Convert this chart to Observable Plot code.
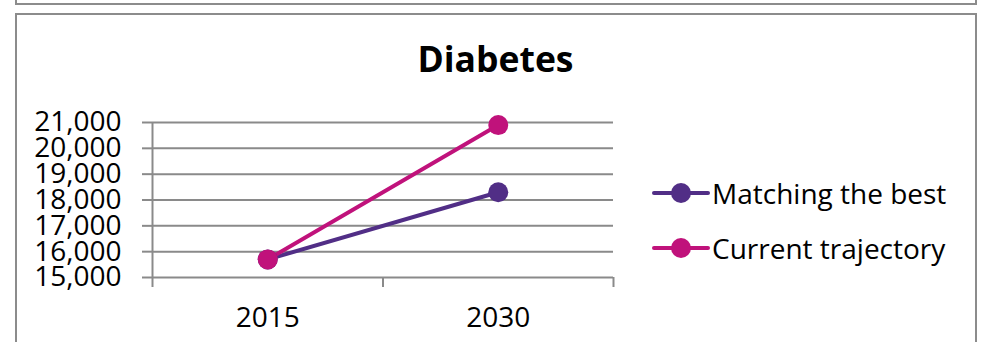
<!DOCTYPE html>
<html>
<head>
<meta charset="utf-8">
<script src="https://cdn.jsdelivr.net/npm/d3@7"></script>
<script src="https://cdn.jsdelivr.net/npm/@observablehq/plot@0.6"></script>
<style>
  html, body { margin: 0; padding: 0; background: #fff; }
  #stage { position: relative; width: 982px; height: 342px; overflow: hidden; font-family: "Open Sans", sans-serif; }
  .frame { position: absolute; border: 2px solid #8c8c8c; box-sizing: border-box; background: #fff; }
  #title { position: absolute; left: 16px; width: 959px; top: 34px; text-align: center; font-weight: 700; font-size: 35.5px; line-height: 48px; color: #000; }
  #chart { position: absolute; left: 0; top: 0; }
  #legend { position: absolute; left: 652px; top: 170px; font-size: 28px; color: #000; }
  .item { display: flex; align-items: center; height: 46px; margin-bottom: 9px; }
  .item svg { margin-right: 2px; }
</style>
</head>
<body>
<div id="stage">
  <div class="frame" style="left:15px; top:-20px; width:962px; height:25px;"></div>
  <div class="frame" style="left:15px; top:13px; width:962px; height:360px;"></div>
  <div id="chart"></div>
  <div id="title">Diabetes</div>
  <div id="legend"></div>
</div>
<script>
// Categories, series and axis ticks
const years = ["2015", "2030"];
const seriesNames = ["Matching the best", "Current trajectory"];
const matchingBest = [15700, 18300];
const currentTrajectory = [15700, 20900];
const yTicks = [15000, 16000, 17000, 18000, 19000, 20000, 21000];
const seriesColors = ["#512e86", "#c0127b"];

const gridColor = "#8a8a8a";

// Long-format rows; each year sits in the middle of its category slot
const rows = [];
[matchingBest, currentTrajectory].forEach((values, s) => {
  values.forEach((v, i) => rows.push({series: seriesNames[s], pos: i + 0.5, value: v}));
});
const slotEdges = d3.range(years.length + 1);
const slotCenters = years.map((_, i) => i + 0.5);

const chart = Plot.plot({
  width: 982,
  height: 342,
  marginLeft: 152,
  marginRight: 369,
  marginTop: 122,
  marginBottom: 65,
  style: {fontFamily: "'Open Sans', sans-serif", fontSize: "28px", background: "transparent", overflow: "visible"},
  x: {domain: [0, years.length]},
  y: {domain: [yTicks[0], yTicks[yTicks.length - 1]]},
  color: {domain: seriesNames, range: seriesColors},
  marks: [
    Plot.ruleY(yTicks, {stroke: gridColor, strokeWidth: 2}),
    Plot.ruleX([0], {y1: yTicks[0], y2: yTicks[yTicks.length - 1], stroke: gridColor, strokeWidth: 2}),
    Plot.axisY({ticks: yTicks, tickSize: 10, tickPadding: 21, tickFormat: d3.format(","),
      stroke: gridColor, strokeWidth: 2, fill: "#000", fontSize: 28, label: null}),
    Plot.axisX({ticks: slotEdges, tickSize: 10, tickFormat: () => "", stroke: gridColor, strokeWidth: 2, label: null}),
    Plot.axisX({ticks: slotCenters, tickSize: 0, tickPadding: 30, tickFormat: (d) => years[Math.floor(d)],
      fill: "#000", fontSize: 28, label: null}),
    Plot.line(rows, {x: "pos", y: "value", z: "series", stroke: "series", strokeWidth: 4, strokeLinecap: "round"}),
    Plot.dot(rows, {x: "pos", y: "value", fill: "series", r: 10})
  ]
});
document.getElementById("chart").appendChild(chart);

// Legend: line-with-marker swatch followed by the series name
const legend = d3.select("#legend");
seriesNames.forEach((name, i) => {
  const item = legend.append("div").attr("class", "item");
  const sw = item.append("svg").attr("width", 58).attr("height", 24);
  sw.append("line").attr("x1", 2).attr("x2", 56).attr("y1", 12).attr("y2", 12)
    .attr("stroke", seriesColors[i]).attr("stroke-width", 4).attr("stroke-linecap", "round");
  sw.append("circle").attr("cx", 29).attr("cy", 12).attr("r", 10).attr("fill", seriesColors[i]);
  item.append("span").text(name);
});
</script>
</body>
</html>
